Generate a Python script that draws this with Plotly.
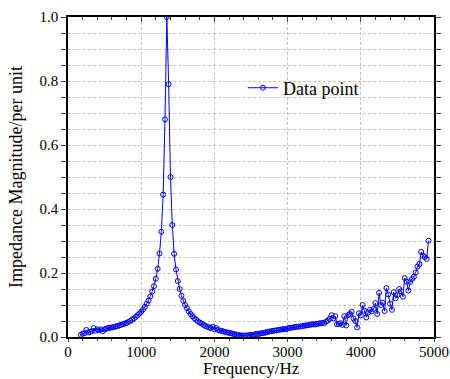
import plotly.graph_objects as go

freq_start = 175
freq_step = 25

low_vals = [0.007, 0.010, 0.012, 0.022, 0.014, 0.016, 0.018, 0.028, 0.020, 0.024,
            0.021, 0.024, 0.018, 0.024, 0.026, 0.028, 0.029, 0.030, 0.031, 0.033,
            0.034, 0.036, 0.038, 0.040, 0.042, 0.044, 0.047, 0.050, 0.054, 0.058,
            0.063, 0.068, 0.073, 0.079, 0.086, 0.094, 0.104, 0.114, 0.127, 0.142,
            0.159, 0.182, 0.213, 0.261, 0.329, 0.445, 0.680]          # 175 .. 1325
peak_vals = [1.000, 0.790, 0.500, 0.350, 0.260, 0.211, 0.175, 0.150, 0.129, 0.113,
             0.100, 0.090, 0.080, 0.072, 0.065, 0.059, 0.054, 0.049, 0.045, 0.042,
             0.038, 0.035, 0.032, 0.030, 0.028]                        # 1350 .. 1950
mid_vals = [0.032, 0.024, 0.028, 0.022, 0.020, 0.019, 0.017, 0.016, 0.014, 0.013,
            0.012, 0.010, 0.009, 0.007, 0.006, 0.005, 0.005, 0.004, 0.005, 0.004,
            0.006, 0.007, 0.006, 0.008, 0.010, 0.009, 0.011, 0.012, 0.013, 0.014,
            0.016, 0.017, 0.018, 0.019, 0.020, 0.021, 0.022, 0.023, 0.024, 0.025,
            0.024, 0.027, 0.028, 0.029, 0.030, 0.031, 0.032, 0.032, 0.033, 0.034,
            0.035, 0.036, 0.037, 0.038, 0.039, 0.040, 0.039, 0.041, 0.042, 0.043,
            0.044]                                                     # 1975 .. 3475
high_vals = [0.044, 0.048, 0.052, 0.057, 0.068, 0.058, 0.065, 0.040, 0.041, 0.043,
             0.038, 0.065, 0.036, 0.068, 0.072, 0.079, 0.058, 0.050, 0.030, 0.074,
             0.068, 0.100, 0.082, 0.061, 0.076, 0.085, 0.080, 0.088, 0.106, 0.072,
             0.138, 0.100, 0.107, 0.081, 0.153, 0.133, 0.104, 0.085, 0.140, 0.121,
             0.131, 0.150, 0.143, 0.126, 0.184, 0.173, 0.145, 0.172, 0.181, 0.188,
             0.202, 0.220, 0.228, 0.266, 0.254, 0.250, 0.244, 0.301]   # 3500 .. 4925

impedance = low_vals + peak_vals + mid_vals + high_vals
frequency = [freq_start + freq_step * i for i in range(len(impedance))]

x_ticks = [0, 1000, 2000, 3000, 4000, 5000]
y_ticks = [0.0, 0.2, 0.4, 0.6, 0.8, 1.0]
y_tick_text = ["0.0", "0.2", "0.4", "0.6", "0.8", "1.0"]

FONT = "Liberation Serif, Times New Roman, serif"
BLUE = "#0000ff"
GRID = "#c4c4c4"

fig = go.Figure()
fig.add_trace(go.Scatter(
    x=frequency, y=impedance, mode="lines+markers", name="Data point",
    line=dict(color=BLUE, width=1),
    marker=dict(symbol="circle-open", size=5, color=BLUE, line=dict(width=1, color=BLUE)),
))

fig.update_layout(
    width=450, height=379,
    margin=dict(l=68, r=16, t=17, b=42),
    paper_bgcolor="white", plot_bgcolor="white",
    font=dict(family=FONT, size=15, color="black"),
    showlegend=True,
    legend=dict(x=0.478, y=0.778, xanchor="left", yanchor="middle",
                bgcolor="rgba(0,0,0,0)", font=dict(size=18, family=FONT),
                itemwidth=30),
    xaxis=dict(
        range=[0, 5000], tickvals=x_ticks, ticks="outside", ticklen=3, tickwidth=1,
        tickfont=dict(size=15), ticklabelstandoff=-3,
        showline=True, linecolor="black", linewidth=1.5, mirror=True,
        showgrid=True, gridcolor=GRID, griddash="3px,2px", gridwidth=1,
        zeroline=False, automargin=False,
        minor=dict(dtick=200, ticks="outside", ticklen=2, showgrid=False),
    ),
    xaxis2=dict(
        range=[0, 5000], overlaying="x", side="top", anchor="y",
        tickvals=x_ticks, ticks="inside", ticklen=5, showticklabels=False,
        showgrid=False, zeroline=False, automargin=False,
        minor=dict(dtick=200, ticks="inside", ticklen=3, showgrid=False),
    ),
    yaxis=dict(
        range=[0, 1.0], tickvals=y_ticks, ticktext=y_tick_text, ticks="outside",
        ticklen=5, tickwidth=1,
        showline=True, linecolor="black", linewidth=1.5, mirror="allticks",
        showgrid=True, gridcolor=GRID, griddash="3px,2px", gridwidth=1,
        zeroline=False, automargin=False,
        minor=dict(dtick=0.05, ticks="outside", ticklen=3, showgrid=True,
                   gridcolor=GRID, griddash="3px,2px", gridwidth=1),
        title=dict(text="Impedance Magnitude/per unit", font=dict(size=18), standoff=12),
    ),
    annotations=[dict(
        text="Frequency/Hz", xref="paper", yref="paper", x=0.5, y=-0.13125,
        xanchor="center", yanchor="bottom", showarrow=False, borderpad=0,
        font=dict(size=17, family=FONT, color="black"),
    )],
)
fig.add_trace(go.Scatter(x=[None], y=[None], xaxis="x2", showlegend=False, hoverinfo="skip"))

fig.write_html("out.html")
